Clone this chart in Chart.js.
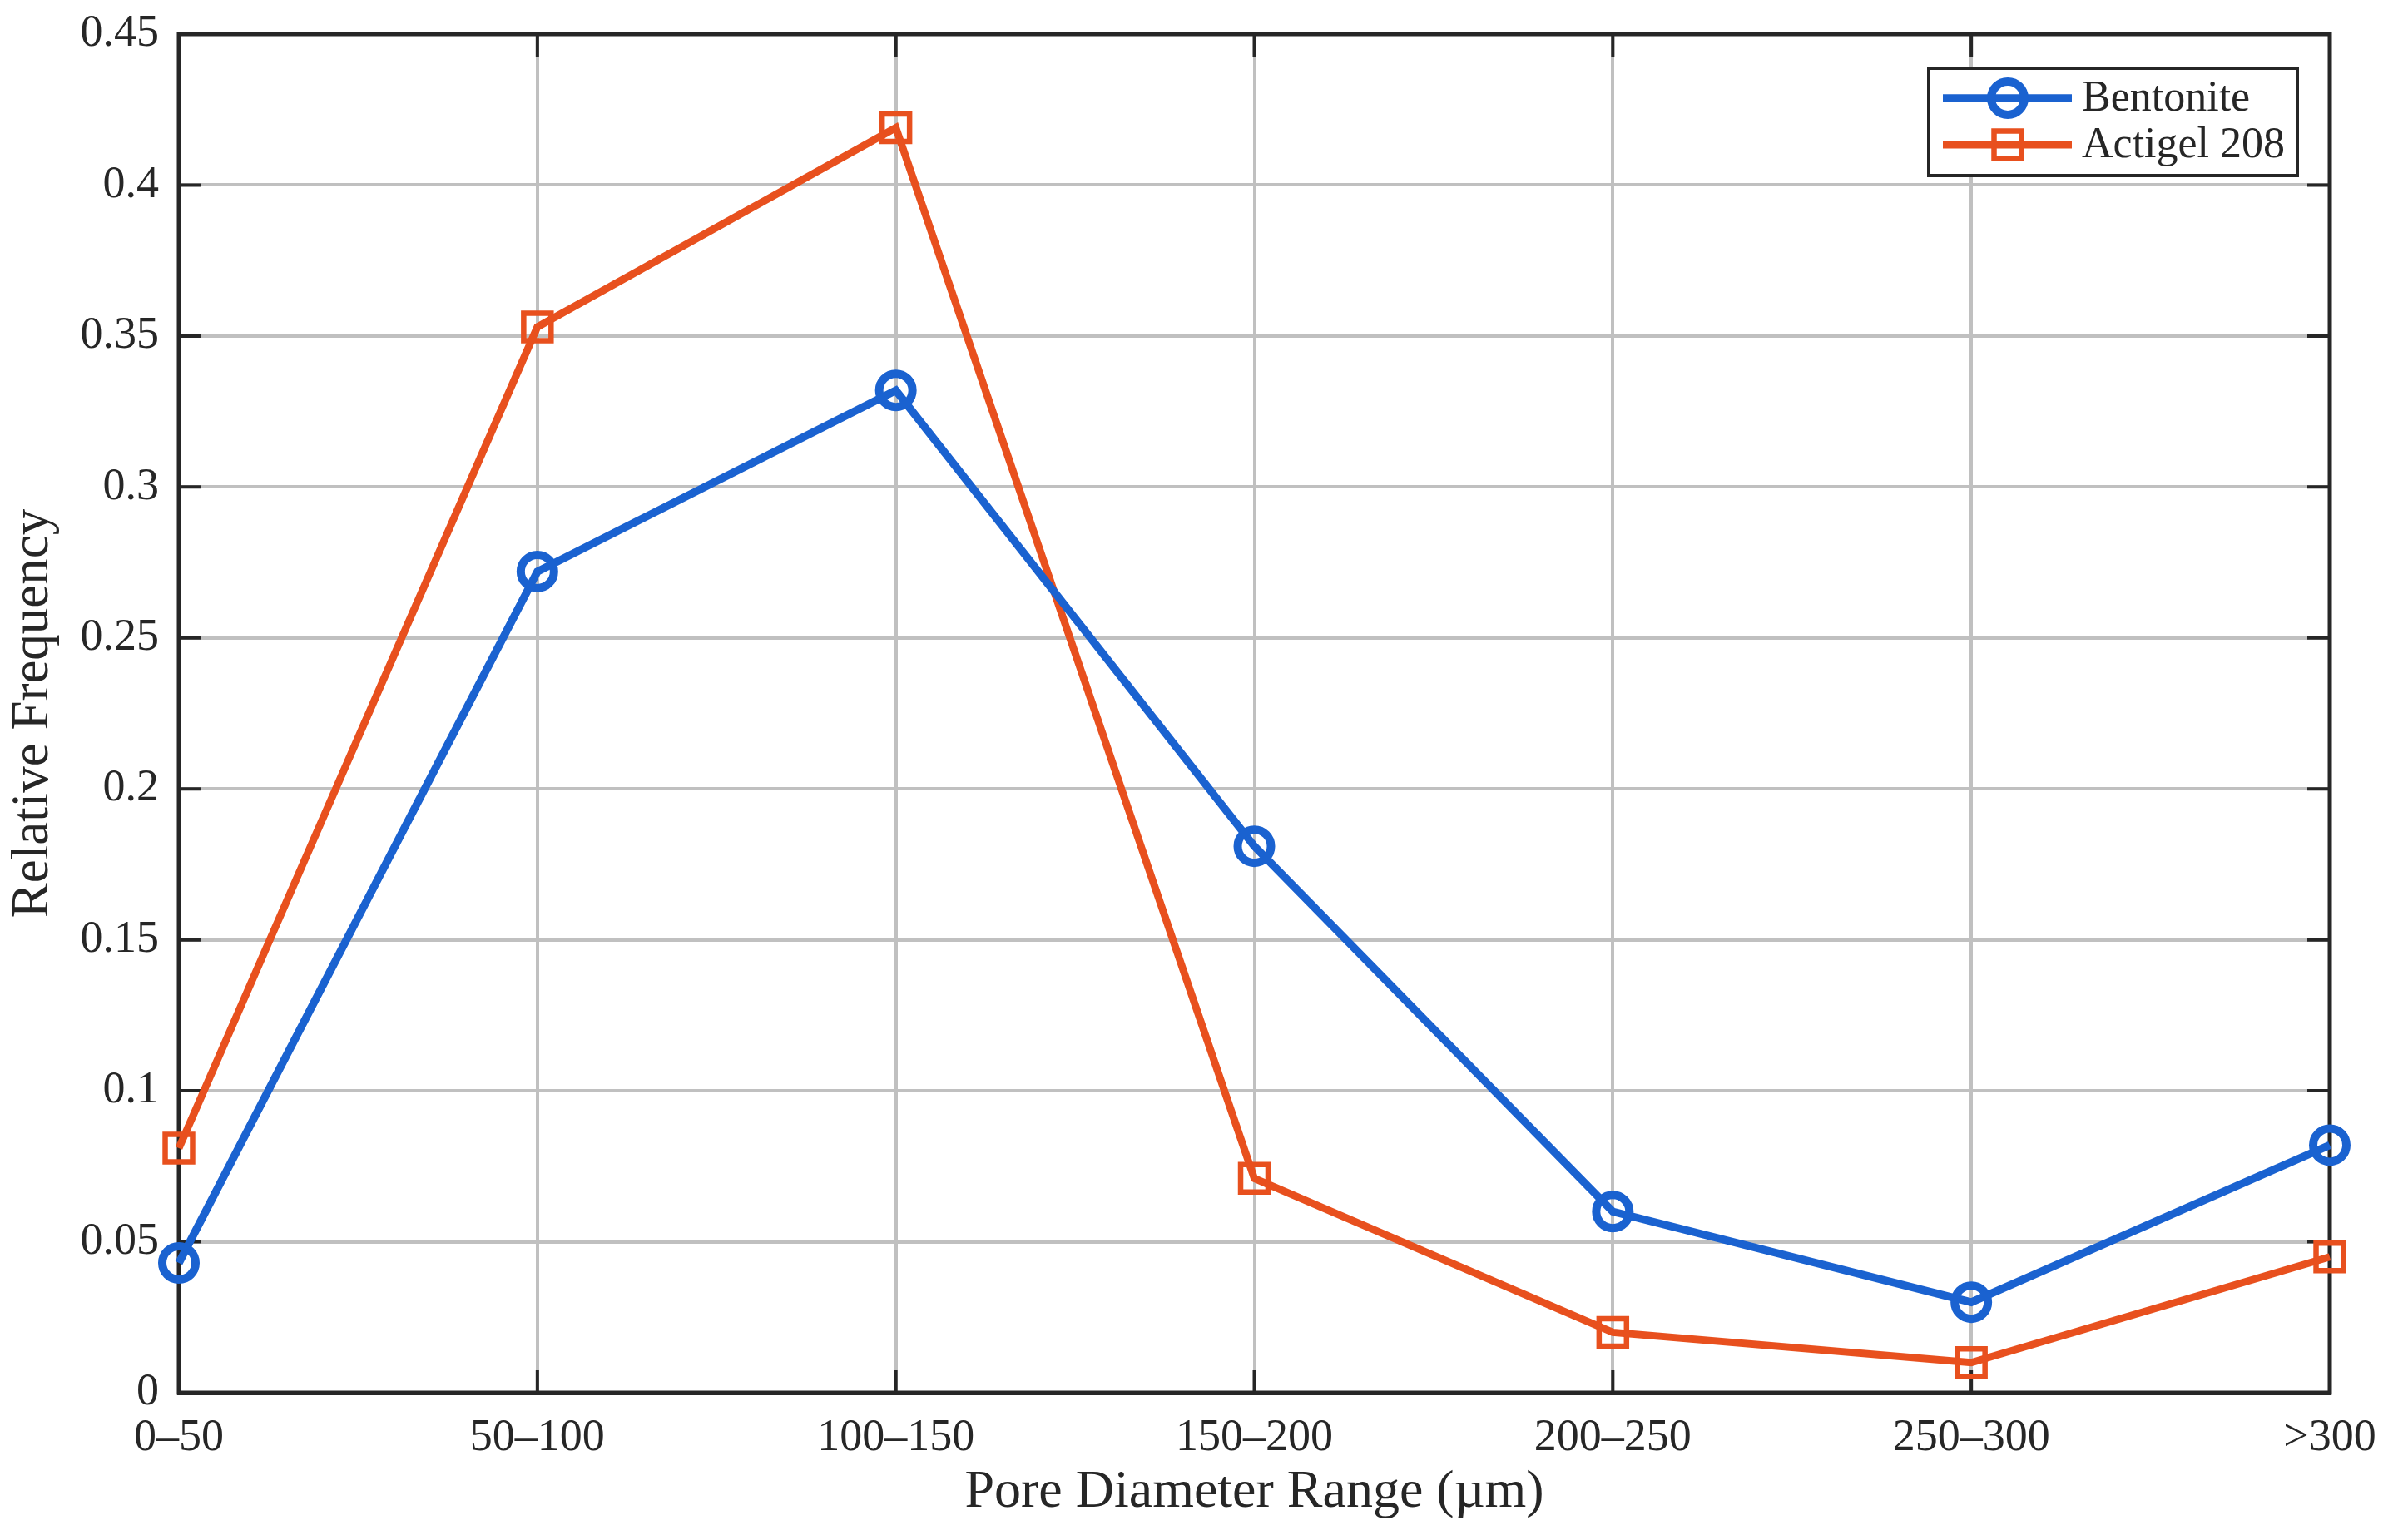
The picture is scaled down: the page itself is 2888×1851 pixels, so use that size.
<!DOCTYPE html>
<html>
<head>
<meta charset="utf-8">
<script src="https://cdn.jsdelivr.net/npm/chart.js@4/dist/chart.umd.min.js"></script>
<style>
  html, body { margin: 0; padding: 0; background: #ffffff; }
  #wrap { width: 2888px; height: 1851px; }
</style>
</head>
<body>
<div id="wrap"><canvas id="c" width="2888" height="1851"></canvas></div>
<script>
const categories = ['0\u201350', '50\u2013100', '100\u2013150', '150\u2013200', '200\u2013250', '250\u2013300', '>300'];
const bentonite = [0.043, 0.272, 0.332, 0.181, 0.060, 0.030, 0.082];
const actigel = [0.081, 0.353, 0.419, 0.071, 0.020, 0.010, 0.045];
const seriesNames = ['Bentonite', 'Actigel 208'];
const yTicks = [0, 0.05, 0.1, 0.15, 0.2, 0.25, 0.3, 0.35, 0.4, 0.45];
const xTitle = 'Pore Diameter Range (\u00b5m)';
const yTitle = 'Relative Frequency';

const BLUE = '#1a62d0';
const ORANGE = '#e8501e';
const AXIS = '#262626';
const GRID = '#c0c0c0';
const FONT = "'Liberation Serif', 'Times New Roman', serif";

function drawMarker(ctx, style, x, y, color) {
  ctx.save();
  ctx.strokeStyle = color;
  if (style === 'circle') {
    ctx.lineWidth = 10;
    ctx.beginPath();
    ctx.arc(x, y, 20, 0, Math.PI * 2);
    ctx.stroke();
  } else {
    ctx.lineWidth = 6.5;
    const s = 16.5;
    ctx.strokeRect(x - s, y - s, 2 * s, 2 * s);
  }
  ctx.restore();
}

const framePlugin = {
  id: 'frame',
  beforeDatasetsDraw(chart) {
    const ctx = chart.ctx;
    const a = chart.chartArea;
    const xs = chart.scales.x, ys = chart.scales.y;
    ctx.save();
    ctx.strokeStyle = AXIS;
    ctx.lineWidth = 4;
    const tl = 27;
    ys.ticks.forEach(t => {
      const py = ys.getPixelForValue(t.value);
      ctx.beginPath();
      ctx.moveTo(a.left, py); ctx.lineTo(a.left + tl, py);
      ctx.moveTo(a.right, py); ctx.lineTo(a.right - tl, py);
      ctx.stroke();
    });
    xs.ticks.forEach((t, i) => {
      const px = xs.getPixelForTick(i);
      ctx.beginPath();
      ctx.moveTo(px, a.bottom); ctx.lineTo(px, a.bottom - tl);
      ctx.moveTo(px, a.top); ctx.lineTo(px, a.top + tl);
      ctx.stroke();
    });
    ctx.lineWidth = 5;
    ctx.beginPath();
    ctx.rect(a.left, a.top, a.right - a.left, a.bottom - a.top);
    ctx.stroke();
    ctx.restore();
  },
  afterDraw(chart) {
    const ctx = chart.ctx;
    const ds = chart.data.datasets;
    const box = { x: 2318, y: 82, w: 443, h: 129 };
    ctx.save();
    ctx.fillStyle = '#ffffff';
    ctx.fillRect(box.x, box.y, box.w, box.h);
    ctx.strokeStyle = AXIS;
    ctx.lineWidth = 4;
    ctx.strokeRect(box.x, box.y, box.w, box.h);
    const rows = [118, 174];
    const baselines = [133, 189];
    ds.forEach((d, i) => {
      const y = rows[i];
      ctx.strokeStyle = d.borderColor;
      ctx.lineWidth = d.borderWidth;
      ctx.beginPath();
      ctx.moveTo(2335, y); ctx.lineTo(2490, y);
      ctx.stroke();
      drawMarker(ctx, d.pointStyle, 2413, y, d.borderColor);
      ctx.fillStyle = AXIS;
      ctx.font = '52px ' + FONT;
      ctx.textAlign = 'left';
      ctx.textBaseline = 'alphabetic';
      ctx.fillText(d.label, 2502, baselines[i]);
    });
    ctx.restore();
  }
};

new Chart(document.getElementById('c'), {
  type: 'line',
  data: {
    labels: categories,
    datasets: [
      {
        label: seriesNames[0],
        data: bentonite,
        borderColor: BLUE,
        borderWidth: 9.5,
        tension: 0,
        pointStyle: 'circle',
        pointRadius: 20,
        pointBorderWidth: 10,
        pointBorderColor: BLUE,
        pointBackgroundColor: 'rgba(0,0,0,0)',
        clip: false
      },
      {
        label: seriesNames[1],
        data: actigel,
        borderColor: ORANGE,
        borderWidth: 9,
        tension: 0,
        pointStyle: 'rect',
        pointRadius: 23.3,
        pointBorderWidth: 6.5,
        pointBorderColor: ORANGE,
        pointBackgroundColor: 'rgba(0,0,0,0)',
        clip: false
      }
    ]
  },
  options: {
    responsive: false,
    devicePixelRatio: 1,
    animation: false,
    events: [],
    layout: { padding: { top: 41, right: 88, left: 0, bottom: 0 } },
    plugins: {
      legend: { display: false },
      tooltip: { enabled: false },
      title: { display: false }
    },
    scales: {
      x: {
        type: 'category',
        offset: false,
        grid: { color: GRID, lineWidth: 4, drawTicks: false },
        border: { display: true, color: AXIS, width: 5 },
        ticks: {
          color: AXIS,
          font: { family: FONT, size: 54 },
          padding: 22,
          maxRotation: 0,
          autoSkip: false
        },
        title: {
          display: true,
          text: xTitle,
          color: AXIS,
          font: { family: FONT, size: 64 },
          padding: { top: 0, bottom: 18 }
        },
        afterFit(scale) {
          scale.height = 177;
          scale.paddingLeft = 0; scale.paddingRight = 0;
        }
      },
      y: {
        type: 'linear',
        min: 0,
        max: 0.45,
        afterBuildTicks(scale) { scale.ticks = yTicks.map(v => ({ value: v })); },
        grid: { color: GRID, lineWidth: 4, drawTicks: false },
        border: { display: true, color: AXIS, width: 5 },
        ticks: {
          color: AXIS,
          font: { family: FONT, size: 54 },
          padding: 24,
          callback: v => String(Number(v.toFixed(2)))
        },
        title: {
          display: true,
          text: yTitle,
          color: AXIS,
          font: { family: FONT, size: 63 },
          padding: { top: 3, bottom: 0 }
        },
        afterFit(scale) {
          scale.width = 215;
          scale.paddingTop = 0; scale.paddingBottom = 0;
        }
      }
    }
  },
  plugins: [framePlugin]
});
</script>
</body>
</html>
